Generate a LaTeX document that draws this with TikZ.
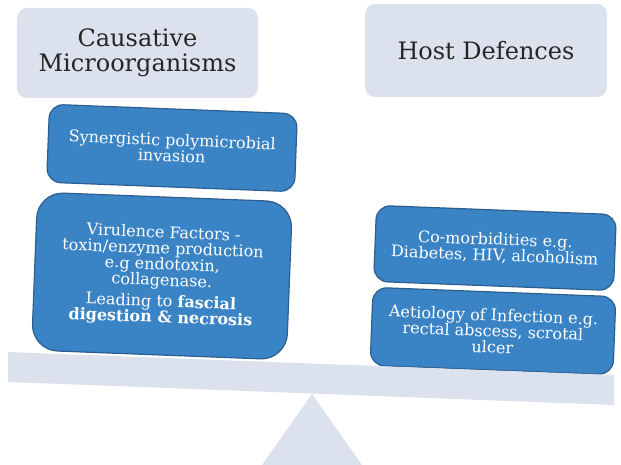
\documentclass[tikz,border=0pt]{standalone}
\usepackage{fontspec}
\setmainfont{DejaVu Serif}
\usetikzlibrary{positioning}

\definecolor{panfill}{HTML}{3A84C5}
\definecolor{panedge}{HTML}{2B5E91}
\definecolor{greyblue}{HTML}{DCE2ED}

\begin{document}
\begin{tikzpicture}[
    x=1pt, y=1pt,
    head/.style={fill=greyblue, rounded corners=10pt, minimum width=241pt, minimum height=90pt, text=black!85, align=center, font=\fontsize{24}{24.5}\selectfont},
    weight/.style={draw=panedge, line width=1.2pt, fill=panfill, rounded corners=14pt, text=white, align=center, font=\fontsize{16}{16}\selectfont, rotate=-2.2},
]
\useasboundingbox (0,0) rectangle (621,465);

% Headings
\node[head] (cause) at (137.5, 412) {Causative\\Microorganisms};
\node[head, minimum width=242pt, minimum height=93pt] (host) at (486, 414.5) {Host Defences};

% Left side of the scale
\node[weight, minimum width=248pt, minimum height=78pt] (syn) at (172, 317) {Synergistic polymicrobial\\invasion};
\node[weight, rounded corners=26pt, minimum width=255pt, minimum height=158pt] (vir) at (162, 189)
    {Virulence Factors -\\toxin/enzyme production\\e.g endotoxin,\\collagenase.\\[5pt]
     Leading to \textbf{fascial}\\\textbf{digestion \& necrosis}};

% Right side of the scale
\node[weight, minimum width=240pt, minimum height=76pt] (como) at (495, 217) {Co-morbidities e.g.\\Diabetes, HIV, alcoholism};
\node[weight, minimum width=243pt, minimum height=78pt] (aet) at (493, 134) {Aetiology of Infection e.g.\\rectal abscess, scrotal\\ulcer};

% Beam and pivot
\fill[greyblue] (8, 113) -- (614, 90) -- (614, 60) -- (8, 83) -- cycle;
\fill[greyblue] (312, 71) -- (362, 0) -- (262, 0) -- cycle;
\end{tikzpicture}
\end{document}
